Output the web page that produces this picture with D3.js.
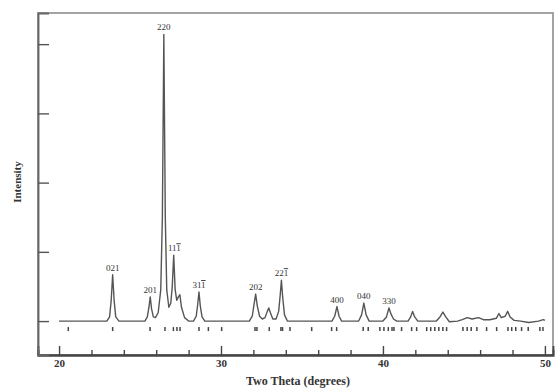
<!DOCTYPE html>
<html>
<head>
<meta charset="utf-8">
<title>XRD pattern</title>
<script src="https://cdn.jsdelivr.net/npm/d3@7"></script>
<style>
  body { margin: 0; background: #fff; }
  text { font-family: "Liberation Serif", "Times New Roman", serif; fill: #333; }
</style>
</head>
<body>
<svg width="556" height="390"></svg>
<script>
// measured profile: [two theta, intensity]
var profile = [
  [20.0, 0], [21.0, 0], [22.95, 0], [23.12, 0.06], [23.22, 0.3], [23.31, 0.67], [23.4, 0.3], [23.5, 0.06], [23.7, 0],
  [25.3, 0], [25.45, 0.06], [25.55, 0.2], [25.63, 0.35], [25.71, 0.18], [25.82, 0.06], [25.95, 0.05], [26.12, 0.12],
  [26.28, 0.45], [26.38, 1.5], [26.47, 4.14], [26.56, 1.5], [26.65, 0.45], [26.78, 0.2], [26.9, 0.26], [26.99, 0.5],
  [27.08, 0.95], [27.17, 0.45], [27.27, 0.3], [27.37, 0.35], [27.46, 0.38], [27.56, 0.2], [27.75, 0.05], [28.0, 0],
  [28.3, 0], [28.47, 0.07], [28.56, 0.24], [28.64, 0.42], [28.72, 0.22], [28.83, 0.06], [29.0, 0],
  [31.75, 0], [31.93, 0.07], [32.04, 0.24], [32.14, 0.39], [32.24, 0.22], [32.38, 0.07], [32.55, 0.03],
  [32.72, 0.05], [32.86, 0.14], [32.95, 0.19], [33.05, 0.12], [33.2, 0.03], [33.4, 0.03], [33.56, 0.14],
  [33.65, 0.36], [33.73, 0.59], [33.81, 0.34], [33.92, 0.09], [34.1, 0],
  [36.85, 0], [37.02, 0.07], [37.16, 0.21], [37.29, 0.07], [37.45, 0],
  [38.5, 0], [38.68, 0.09], [38.82, 0.26], [38.96, 0.09], [39.15, 0],
  [40.0, 0], [40.22, 0.06], [40.37, 0.19], [40.5, 0.1], [40.65, 0.03], [40.85, 0],
  [41.55, 0], [41.71, 0.06], [41.83, 0.14], [41.96, 0.06], [42.15, 0],
  [43.3, 0], [43.52, 0.06], [43.7, 0.13], [43.88, 0.06], [44.1, -0.01], [44.6, 0],
  [44.9, 0.02], [45.2, 0.05], [45.5, 0.03], [45.9, 0.05], [46.2, 0.02], [46.6, 0.02],
  [47.0, 0.04], [47.16, 0.11], [47.3, 0.05], [47.55, 0.07], [47.7, 0.14], [47.85, 0.06], [48.1, 0.01],
  [48.5, 0], [49.0, -0.02], [49.6, 0], [49.9, 0.02], [50.0, 0.01]
];

// reference reflection positions (bold ones are doubled)
var reflections = [20.57, 23.31, 25.62, 26.54, 27.06, 27.28, 27.47, 28.64, 29.22, 30.04,
  32.10, 32.22, 32.98, 33.70, 33.80, 34.26, 35.60, 36.83, 37.14, 38.78, 39.09, 39.81, 40.06,
  40.33, 40.56, 40.68, 41.15, 41.77, 42.08, 42.70, 42.95, 43.20, 43.45, 43.70, 43.93,
  44.94, 45.20, 45.45, 45.80, 46.40, 47.02, 47.72, 47.95, 48.20, 48.56, 48.97, 49.69, 49.88];

// peak labels: [h, k, l, bar on l?, two theta, intensity]
var peakLabels = [
  ["0", "2", "1", false, 23.31, 0.67],
  ["2", "0", "1", false, 25.63, 0.35],
  ["2", "2", "0", false, 26.47, 4.14],
  ["1", "1", "1", true, 27.12, 0.95],
  ["3", "1", "1", true, 28.64, 0.42],
  ["2", "0", "2", false, 32.14, 0.39],
  ["2", "2", "1", true, 33.73, 0.59],
  ["4", "0", "0", false, 37.16, 0.21],
  ["0", "4", "0", false, 38.82, 0.26],
  ["3", "3", "0", false, 40.37, 0.19]
];

var majorTicks = [20, 30, 40, 50];
var minorTicks = [22, 24, 26, 28, 32, 34, 36, 38, 42, 44, 46, 48];
var intensityTicks = [0, 1, 2, 3, 4];

var svg = d3.select("svg");
var plotLeft = 38, plotRight = 553, plotTop = 13, plotBottom = 355;

var x = d3.scaleLinear().domain([18.7, 50.5]).range([plotLeft, plotRight]);
var y = d3.scaleLinear().domain([-0.49, 4.45]).range([plotBottom, plotTop]);

// frame
svg.append("rect")
  .attr("x", plotLeft).attr("y", plotTop)
  .attr("width", plotRight - plotLeft).attr("height", plotBottom - plotTop)
  .attr("fill", "none").attr("stroke", "#999").attr("stroke-width", 1.8);

// x axis
var gx = svg.append("g").attr("transform", "translate(0," + plotBottom + ")");
gx.call(d3.axisBottom(x).tickValues(majorTicks).tickSize(-9).tickPadding(4).tickFormat(d3.format("d")));
gx.append("g").call(d3.axisBottom(x).tickValues(minorTicks).tickSize(-5).tickFormat(""));
gx.selectAll(".domain").attr("stroke", "#444").attr("stroke-width", 1.8);
gx.selectAll(".tick line").attr("stroke", "#444").attr("stroke-width", 1.4);
gx.selectAll(".tick text").attr("font-size", 11).attr("font-weight", "bold")
  .attr("fill", "#444").attr("font-family", "Liberation Serif, serif");

// y axis
var gy = svg.append("g").attr("transform", "translate(" + plotLeft + ",0)");
gy.call(d3.axisLeft(y).tickValues(intensityTicks).tickSize(-11).tickFormat(""));
gy.select(".domain").attr("stroke", "#666").attr("stroke-width", 1.9);
gy.selectAll(".tick line").attr("stroke", "#555").attr("stroke-width", 1.4);

// profile
var line = d3.line().x(function(d) { return x(d[0]); }).y(function(d) { return y(d[1]); });
svg.append("path")
  .datum(profile)
  .attr("d", line)
  .attr("fill", "none")
  .attr("stroke", "#555")
  .attr("stroke-width", 1.4)
  .attr("stroke-linejoin", "round");

// reflection markers
svg.append("g").selectAll("line")
  .data(reflections)
  .join("line")
  .attr("x1", function(d) { return x(d); })
  .attr("x2", function(d) { return x(d); })
  .attr("y1", y(0) + 6).attr("y2", y(0) + 10)
  .attr("stroke", "#444").attr("stroke-width", 1.5);

// peak labels
var lab = svg.append("g").selectAll("text")
  .data(peakLabels)
  .join("text")
  .attr("x", function(d) { return x(d[4]); })
  .attr("y", function(d) { return y(d[5]) - 4; })
  .attr("text-anchor", "middle")
  .attr("font-size", 9)
  .attr("fill", "#444");
lab.append("tspan").text(function(d) { return d[0] + d[1]; });
lab.append("tspan")
  .style("text-decoration", function(d) { return d[3] ? "overline" : "none"; })
  .text(function(d) { return d[2]; });

// axis titles
svg.append("text")
  .attr("x", 298).attr("y", 385)
  .attr("text-anchor", "middle")
  .attr("font-size", 12).attr("font-weight", "bold")
  .text("Two Theta (degrees)");

svg.append("text")
  .attr("transform", "translate(21,182) rotate(-90)")
  .attr("text-anchor", "middle")
  .attr("font-size", 11).attr("font-weight", "bold")
  .text("Intensity");
</script>
</body>
</html>
